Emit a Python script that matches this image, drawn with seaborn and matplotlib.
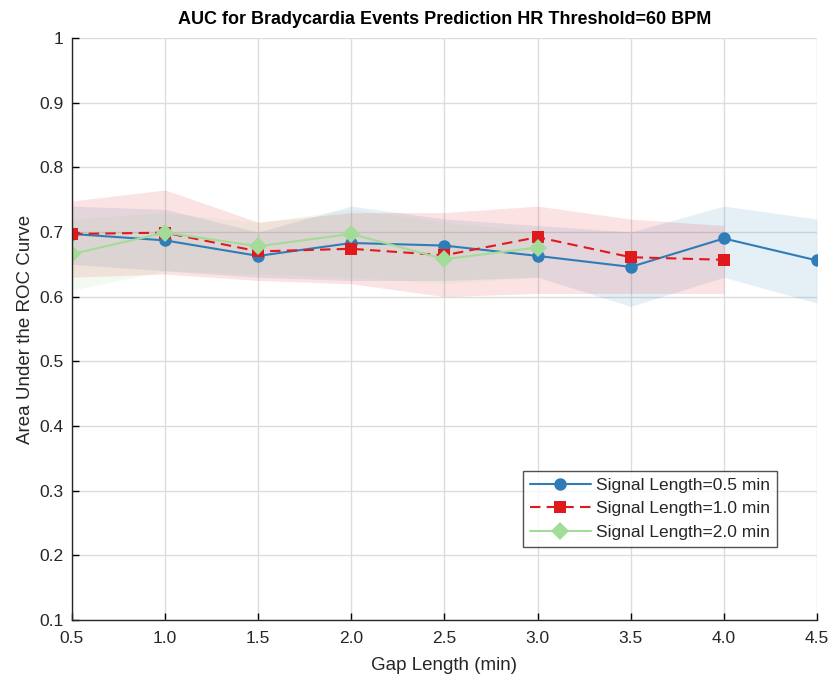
import numpy as np
import pandas as pd
import matplotlib
matplotlib.use("Agg")
import matplotlib.pyplot as plt
import seaborn as sns

gap = [0.5, 1.0, 1.5, 2.0, 2.5, 3.0, 3.5, 4.0, 4.5]

s05_mean = [0.697, 0.687, 0.663, 0.683, 0.679, 0.663, 0.646, 0.690, 0.656]
s05_lo = [0.650, 0.640, 0.630, 0.625, 0.625, 0.630, 0.585, 0.630, 0.590]
s05_hi = [0.740, 0.735, 0.700, 0.740, 0.720, 0.710, 0.700, 0.740, 0.720]

s10_mean = [0.697, 0.699, 0.670, 0.674, 0.664, 0.692, 0.661, 0.657]
s10_lo = [0.630, 0.635, 0.625, 0.620, 0.600, 0.605, 0.605, 0.605]
s10_hi = [0.748, 0.765, 0.715, 0.730, 0.730, 0.740, 0.720, 0.710]

s20_mean = [0.666, 0.699, 0.678, 0.697, 0.658, 0.676]
s20_lo = [0.610, 0.640, 0.635, 0.630, 0.620, 0.630]
s20_hi = [0.720, 0.730, 0.715, 0.735, 0.715, 0.700]

labels = ["Signal Length=0.5 min", "Signal Length=1.0 min", "Signal Length=2.0 min"]
colors = ["#2F7DB8", "#E0191C", "#A3DB98"]

series = [(s05_mean, s05_lo, s05_hi), (s10_mean, s10_lo, s10_hi), (s20_mean, s20_lo, s20_hi)]

rows = []
for lab, (m, lo, hi) in zip(labels, series):
    for g, v in zip(gap, m):
        rows.append({"Gap": g, "AUC": v, "Series": lab})
df = pd.DataFrame(rows)

sns.set_style("whitegrid")
plt.rcParams["font.family"] = ["Liberation Sans", "DejaVu Sans"]

fig = plt.figure(figsize=(8.33, 6.81), dpi=100)
ax = fig.add_axes([0.0864, 0.0896, 0.8944, 0.8546])

for (m, lo, hi), c in zip(series, colors):
    ax.fill_between(gap[:len(m)], lo, hi, color=c, alpha=0.12, linewidth=0)

palette = dict(zip(labels, colors))
markers = dict(zip(labels, ["o", "s", "D"]))
dashes = dict(zip(labels, ["", (5, 3), ""]))
sns.lineplot(data=df, x="Gap", y="AUC", hue="Series", style="Series",
             palette=palette, markers=markers, dashes=dashes,
             markersize=9, linewidth=1.5, markeredgewidth=0, ax=ax)

ax.set_xlim(0.5, 4.5)
ax.set_ylim(0.1, 1.0)
ax.set_xticks(gap)
ax.set_xticklabels([f"{g:.1f}" for g in gap])
ax.set_yticks(np.arange(0.1, 1.01, 0.1))
ax.set_yticklabels(["0.1", "0.2", "0.3", "0.4", "0.5", "0.6", "0.7", "0.8", "0.9", "1"])
ax.tick_params(axis="both", direction="in", length=5, width=1, color="black",
               labelsize=12.5, labelcolor="#262626")
ax.tick_params(axis="x", bottom=True, pad=8)
ax.tick_params(axis="y", left=True, pad=6)
ax.grid(True, color="#DCDCDC", linewidth=1)
for side in ["top", "right"]:
    ax.spines[side].set_visible(False)
for side in ["left", "bottom"]:
    ax.spines[side].set_color("#262626")
    ax.spines[side].set_linewidth(1)

ax.set_xlabel("Gap Length (min)", fontsize=13.5, color="#262626", labelpad=8)
ax.set_ylabel("Area Under the ROC Curve", fontsize=13.5, color="#262626", labelpad=4)
ax.set_title("AUC for Bradycardia Events Prediction HR Threshold=60 BPM",
             fontsize=13, fontweight="bold", color="black", pad=10)

leg = ax.legend(loc="lower right", bbox_to_anchor=(0.946, 0.125), borderaxespad=0,
                fontsize=12.5, frameon=True, fancybox=False, edgecolor="#262626",
                handlelength=3.5, borderpad=0.4, labelspacing=0.5, handletextpad=0.3)
leg.get_frame().set_linewidth(1)
leg.set_title(None)

fig.savefig("out.png", dpi=100)
